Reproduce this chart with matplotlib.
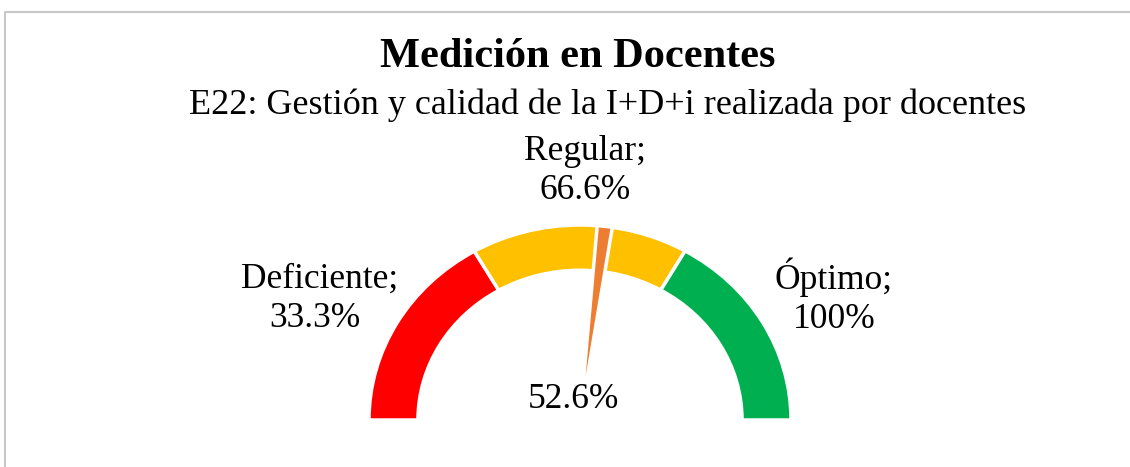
import matplotlib
matplotlib.use("Agg")
import matplotlib.pyplot as plt
import matplotlib.patches as patches
from matplotlib.lines import Line2D

# --- data ---
categories = ["Deficiente", "Regular", "Óptimo"]
upper_bounds = [33.3, 66.6, 100.0]
band_colors = ["#FF0000", "#FFC000", "#00B050"]
value = 52.6
needle_span = 2.3  # needle slice width, in %

title = "Medición en Docentes"
subtitle = "E22: Gestión y calidad de la I+D+i realizada por docentes"

FONT = "Liberation Serif"
NEEDLE = "#ED7D31"
W, H = 1130, 467


def pct_to_deg(p):
    # 0% at the left (180 deg), 100% at the right (0 deg)
    return 180.0 - 1.8 * p


def fx(px):
    return px / W


def fy(py):
    # pixel row measured from the top -> figure fraction
    return 1 - py / H


fig = plt.figure(figsize=(W / 100, H / 100), dpi=100)
ax = fig.add_axes([0, 0, 1, 1])

# gauge centre at (580, 420) px, outer radius 211 x 195 px (slightly wide)
px_x, px_y = 211.0, 195.0
cx, cy = 580.0, 47.0
ax.set_xlim(-cx / px_x, (W - cx) / px_x)
ax.set_ylim(-cy / px_y, (H - cy) / px_y)
ax.axis("off")

# --- bands ---
lower = 0.0
for upper, color in zip(upper_bounds, band_colors):
    ax.add_patch(patches.Wedge((0, 0), 1.0, pct_to_deg(upper), pct_to_deg(lower),
                               width=0.232, facecolor=color,
                               edgecolor="white", linewidth=2.5))
    lower = upper

# --- needle ---
ax.add_patch(patches.Wedge((0, 0), 1.0, pct_to_deg(value + needle_span),
                           pct_to_deg(value), facecolor=NEEDLE,
                           edgecolor="white", linewidth=2.5, zorder=3))

# --- labels ---
lab_kw = dict(fontsize=25.5, family=FONT, color="black", ha="center",
              va="baseline")
# (x centre, baseline of first line, x centre of second line)
label_pos = [(320, 288, 315), (585, 160, 585), (834, 289, 834)]
for name, b, (x1, y1, x2) in zip(categories, upper_bounds, label_pos):
    fig.text(fx(x1), fy(y1), f"{name};", **lab_kw)
    fig.text(fx(x2), fy(y1 + 39), f"{b:g}%", **lab_kw)

fig.text(fx(574), fy(408), f"{value:.1f}%", **lab_kw)

fig.text(fx(578), fy(67), title, fontsize=30.5, fontweight="bold",
         family=FONT, ha="center", va="baseline")
fig.text(fx(608), fy(114), subtitle, fontsize=26,
         family=FONT, ha="center", va="baseline")

# --- chart border (only top and left edges are in frame) ---
fig.add_artist(Line2D([fx(5), fx(5), 1.0], [0.0, fy(12), fy(12)],
                      color="#c8c8c8", linewidth=1.5))

fig.savefig("out.png", dpi=100)
